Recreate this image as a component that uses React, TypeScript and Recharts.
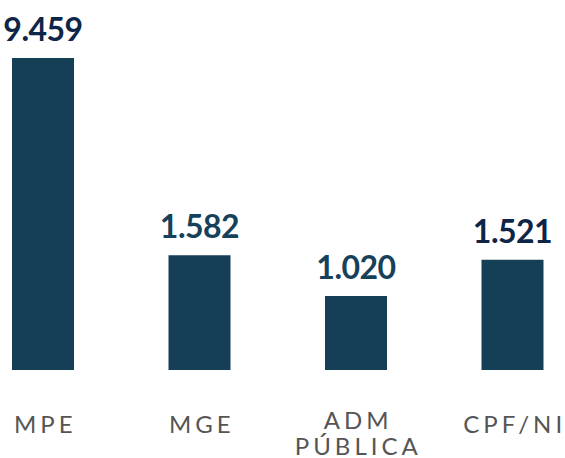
import { BarChart, Bar, XAxis, YAxis, LabelList } from 'recharts';

const CATEGORIES = ['MPE', 'MGE', 'ADM PÚBLICA', 'CPF/NI'];
const VALUES = [9459, 1582, 1020, 1521];
const VALUE_LABELS = ['9.459', '1.582', '1.020', '1.521'];

const BAR_COLOR = '#143F56';
const LABEL_COLORS = ['#0D2547', '#17415A', '#17415A', '#0D2547'];
const TICK_COLOR = '#555555';
const FONT = 'Lato, "Noto Sans", sans-serif';

const PLOT_TOP = 58;

const data = CATEGORIES.map((name, i) => ({
  name,
  value: VALUES[i],
  label: VALUE_LABELS[i],
  color: LABEL_COLORS[i],
}));

// the first bar is far taller than the rest, so it is cut at the top of the plot
const ValueLabel = (props: any) => {
  const { x, y, width, index } = props;
  const top = Math.max(Number(y), PLOT_TOP);
  const d = data[index];
  return (
    <text
      x={Number(x) + Number(width) / 2}
      y={top - 17}
      textAnchor="middle"
      fill={d.color}
      fontFamily={FONT}
      fontWeight={700}
      fontSize={32}
      letterSpacing={-0.5}
    >
      {d.label}
    </text>
  );
};

const CategoryTick = ({ x, y, payload }: any) => {
  const lines = String(payload.value).split(' ');
  const first = lines.length > 1 ? 59 : 63;
  return (
    <text
      x={x}
      y={y}
      textAnchor="middle"
      fill={TICK_COLOR}
      fontFamily={FONT}
      fontSize={24}
      letterSpacing={4}
    >
      {lines.map((line, i) => (
        <tspan key={line} x={x + 2} dy={i === 0 ? first : 26}>
          {line}
        </tspan>
      ))}
    </text>
  );
};

export default function App() {
  return (
    <div
      style={{
        position: 'absolute',
        left: 0,
        top: 0,
        width: 565,
        height: 458,
        overflow: 'hidden',
        background: '#ffffff',
      }}
    >
      <div style={{ marginLeft: -35 }}>
        <BarChart
          width={626}
          height={458}
          data={data}
          margin={{ top: PLOT_TOP, right: 0, bottom: 0, left: 0 }}
        >
          <XAxis
            dataKey="name"
            axisLine={false}
            tickLine={false}
            tickSize={0}
            tickMargin={0}
            height={88}
            interval={0}
            tick={<CategoryTick />}
          />
          <YAxis hide domain={[0, 4300]} allowDataOverflow />
          <Bar dataKey="value" fill={BAR_COLOR} barSize={62} isAnimationActive={false}>
            <LabelList dataKey="label" content={<ValueLabel />} />
          </Bar>
        </BarChart>
      </div>
    </div>
  );
}
